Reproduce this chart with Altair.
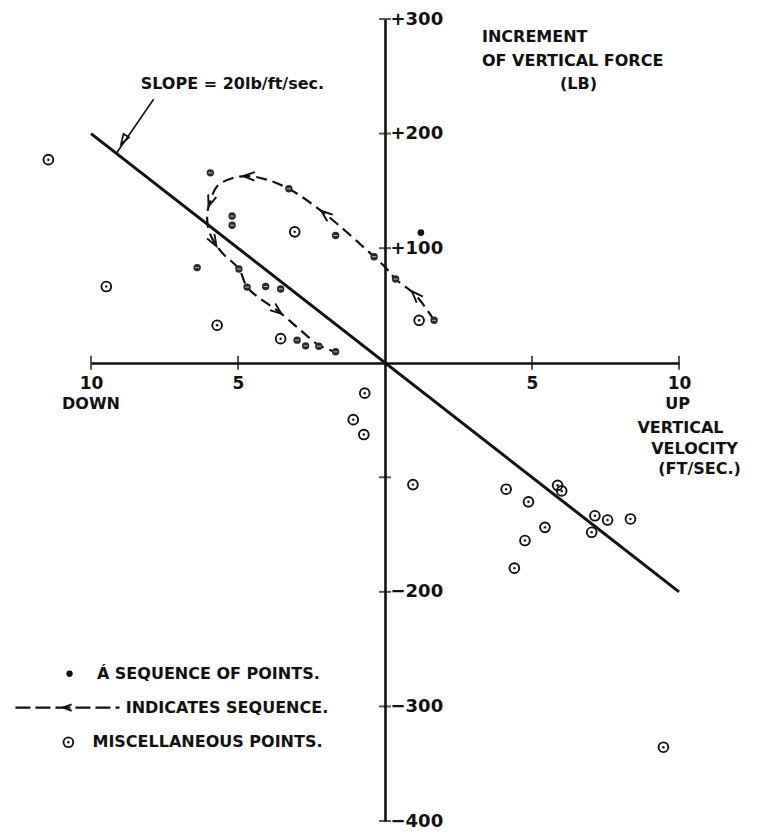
import altair as alt
import pandas as pd

INK = "#111111"
FONT = "DejaVu Sans"

# ---- data ----------------------------------------------------------------
# vertical velocity (ft/sec, + = up) and increment of vertical force (lb)
seq_x = [-5.94, -5.20, -5.20, -3.27, -1.68, -0.37, 0.36, 1.67, -6.39, -4.97,
         -4.69, -4.06, -3.55, -2.99, -2.70, -2.25, -1.68]
seq_y = [165.7, 128, 120, 151.8, 111, 92.5, 73, 37, 83, 81.8,
         66, 66.5, 64.4, 19.7, 14.7, 14.4, 9.5]
solid_x = [1.22]
solid_y = [113.6]

misc_x = [-11.45, -9.48, -3.07, -5.71, -3.55, 1.16, -0.69, -1.08, -0.72, 0.95,
          4.12, 4.88, 5.87, 6.01, 5.44, 4.76, 4.40, 7.14, 7.57, 8.35, 7.03, 9.47]
misc_y = [177.2, 66.5, 114.2, 32.7, 21, 37, -26.6, -49.7, -62.7, -106.4,
          -110.4, -121.4, -107, -111.9, -143.7, -155.2, -179.3, -133.6, -137.3,
          -136.4, -148, -335.6]

# dashed line indicating the sequence (in order of time)
path_x = [1.67, 1.05, 0.36, 0.02, -0.37, -2.02, -3.27, -4.06, -4.63, -5.20,
          -5.71, -5.94, -6.05, -6.00, -5.83, -5.54, -4.97, -4.69, -4.24, -3.67,
          -2.93, -2.25, -1.68]
path_y = [37, 58.7, 73, 83, 92.5, 129.5, 151.8, 160, 162.8, 161,
          154, 141, 129.5, 116.5, 106, 96, 81.8, 66, 55.8, 45.7,
          29.7, 15.3, 9.5]
arrow_x = [1.05, -2.02, -4.63, -5.94, -5.83, -3.67]
arrow_y = [58.7, 129.5, 162.8, 141, 106, 45.7]
arrow_angle = [317, 309, 272, 199, 150, 128]

# fitted line, slope = 20 lb per ft/sec
slope_x = [-10, 10]
slope_y = [200, -200]

# annotation arrow for the slope label
note_x = [-7.87, -9.13]
note_y = [230, 183]
note_head_x = [-8.89]
note_head_y = [194.5]
note_head_angle = [212]

# axis ticks
x_ticks = [-10, -5, 5, 10]
y_ticks = [300, 200, 100, -100, -200, -300, -400]

# text labels
left_text = ["SLOPE = 20lb/ft/sec.", "INCREMENT", "OF VERTICAL FORCE",
             "Á SEQUENCE OF POINTS.", "INDICATES SEQUENCE.", "MISCELLANEOUS POINTS."]
left_text_x = [-8.31, 3.30, 3.30, -9.80, -8.82, -9.95]
left_text_y = [243.7, 284.5, 263.7, -271.5, -301, -331.3]

center_text = ["(LB)", "DOWN", "UP", "VERTICAL", "VELOCITY", "(FT/SEC.)"]
center_text_x = [6.58, -10.0, 9.95, 10.05, 10.53, 10.70]
center_text_y = [243.7, -36.4, -36.4, -57.2, -75.5, -92.8]

# legend symbols
leg_dot_x = [-10.73]
leg_dot_y = [-271.5]
leg_ring_x = [-10.77]
leg_ring_y = [-331.3]
leg_line_x = [-12.57, -9.03]
leg_line_y = [-301, -301]
leg_arrow_x = [-10.8]
leg_arrow_y = [-301]
leg_arrow_angle = [270]

# ---- encodings --------------------------------------------------------------
XS = alt.Scale(domain=[-10, 10], nice=False, zero=False)
YS = alt.Scale(domain=[-400, 300], nice=False, zero=False)

X_AXIS = alt.Axis(orient="bottom", offset=-458, values=x_ticks,
                  labelExpr="abs(datum.value)", ticks=False, grid=False,
                  title=None, domainWidth=2.6, domainColor=INK,
                  labelPadding=12, labelFontSize=17, labelFont=FONT,
                  labelFontWeight="bold", labelColor=INK, labelFlush=False)
Y_AXIS = alt.Axis(orient="right", offset=-294, values=y_ticks,
                  labelExpr="datum.value == -100 ? '' : (datum.value > 0 ? '+' : '\u2212') + abs(datum.value)",
                  ticks=False, grid=False, title=None, domainWidth=2.6,
                  domainColor=INK, labelPadding=5, labelFontSize=18,
                  labelFont=FONT, labelFontWeight="bold", labelColor=INK,
                  labelBaseline="middle", labelFlush=False)


def X(f="x"):
    return alt.X(f"{f}:Q", scale=XS, axis=X_AXIS)


def Y(f="y"):
    return alt.Y(f"{f}:Q", scale=YS, axis=Y_AXIS)


def df(xs, ys, **extra):
    d = {"x": xs, "y": ys}
    d.update(extra)
    return pd.DataFrame(d)


# ---- layers -------------------------------------------------------------
xtick_layer = alt.Chart(df(x_ticks, [0] * len(x_ticks))).mark_tick(
    orient="vertical", size=14, thickness=2, color=INK).encode(x=X(), y=Y())
ytick_layer = alt.Chart(df([0] * len(y_ticks), y_ticks)).mark_tick(
    orient="horizontal", size=12, thickness=2, color=INK).encode(x=X(), y=Y())

slope_layer = alt.Chart(
    pd.DataFrame({"x": [slope_x[0]], "y": [slope_y[0]],
                  "x2": [slope_x[1]], "y2": [slope_y[1]]})
).mark_rule(strokeWidth=3, color=INK).encode(x=X(), y=Y(), x2="x2:Q", y2="y2:Q")

note_layer = alt.Chart(
    pd.DataFrame({"x": [note_x[0]], "y": [note_y[0]],
                  "x2": [note_x[1]], "y2": [note_y[1]]})
).mark_rule(strokeWidth=1.6, color=INK).encode(x=X(), y=Y(), x2="x2:Q", y2="y2:Q")
note_head = alt.Chart(df(note_head_x, note_head_y, a=note_head_angle)).mark_point(
    shape="M0,-1L0.65,1L-0.65,1Z", filled=False, size=100, strokeWidth=1.7,
    color=INK, opacity=1).encode(x=X(), y=Y(), angle=alt.Angle("a:Q", scale=None))

path_layer = alt.Chart(df(path_x, path_y, o=list(range(len(path_x))))).mark_line(
    strokeDash=[11, 6], strokeWidth=2.2, color=INK, interpolate="catmull-rom"
).encode(x=X(), y=Y(), order="o:Q")

CHEVRON = "M-0.75,1L0,-1L0.75,1"
arrow_layer = alt.Chart(df(arrow_x, arrow_y, a=arrow_angle)).mark_point(
    shape=CHEVRON, filled=False, size=130, strokeWidth=1.9, color=INK, opacity=1
).encode(x=X(), y=Y(), angle=alt.Angle("a:Q", scale=None))

seq_fill = alt.Chart(df(seq_x, seq_y)).mark_point(
    shape="circle", filled=True, size=55, color="#2a2a2a", opacity=1
).encode(x=X(), y=Y())
seq_bar = alt.Chart(df(seq_x, seq_y)).mark_point(
    shape="M-0.55,0L0.55,0", filled=False, size=55, strokeWidth=1, color="#bbbbbb",
    opacity=1
).encode(x=X(), y=Y())
solid_layer = alt.Chart(df(solid_x, solid_y)).mark_point(
    shape="circle", filled=True, size=45, color=INK, opacity=1
).encode(x=X(), y=Y())

misc_ring = alt.Chart(df(misc_x + leg_ring_x, misc_y + leg_ring_y)).mark_point(
    shape="circle", filled=False, size=95, strokeWidth=1.9, color=INK, opacity=1
).encode(x=X(), y=Y())
misc_dot = alt.Chart(df(misc_x + leg_ring_x, misc_y + leg_ring_y)).mark_point(
    shape="circle", filled=True, size=6, color=INK, opacity=1
).encode(x=X(), y=Y())

leg_dot = alt.Chart(df(leg_dot_x, leg_dot_y)).mark_point(
    shape="circle", filled=True, size=40, color=INK, opacity=1
).encode(x=X(), y=Y())
leg_line = alt.Chart(df(leg_line_x, leg_line_y, o=[0, 1])).mark_line(
    strokeDash=[15, 5], strokeWidth=2.2, color=INK).encode(x=X(), y=Y(), order="o:Q")
leg_arrow = alt.Chart(df(leg_arrow_x, leg_arrow_y, a=leg_arrow_angle)).mark_point(
    shape=CHEVRON, filled=False, size=70, strokeWidth=2, color=INK, opacity=1
).encode(x=X(), y=Y(), angle=alt.Angle("a:Q", scale=None))

text_left = alt.Chart(df(left_text_x, left_text_y, t=left_text)).mark_text(
    align="left", baseline="middle", font=FONT, fontSize=16, fontWeight="bold",
    color=INK
).encode(x=X(), y=Y(), text="t:N")
text_center = alt.Chart(df(center_text_x, center_text_y, t=center_text)).mark_text(
    align="center", baseline="middle", font=FONT, fontSize=16, fontWeight="bold",
    color=INK
).encode(x=X(), y=Y(), text="t:N")

chart = alt.layer(
    xtick_layer, ytick_layer, slope_layer, note_layer, note_head, path_layer,
    arrow_layer, seq_fill, seq_bar, solid_layer, misc_ring, misc_dot, leg_dot,
    leg_line, leg_arrow, text_left, text_center
).properties(
    width=588, height=802,
    padding={"left": 83, "top": 11, "right": 79, "bottom": 8},
    autosize=alt.AutoSizeParams(type="none"),
    background="white",
).configure_view(strokeWidth=0)

chart.save("out.html", embed_options={"renderer": "svg", "actions": False})
